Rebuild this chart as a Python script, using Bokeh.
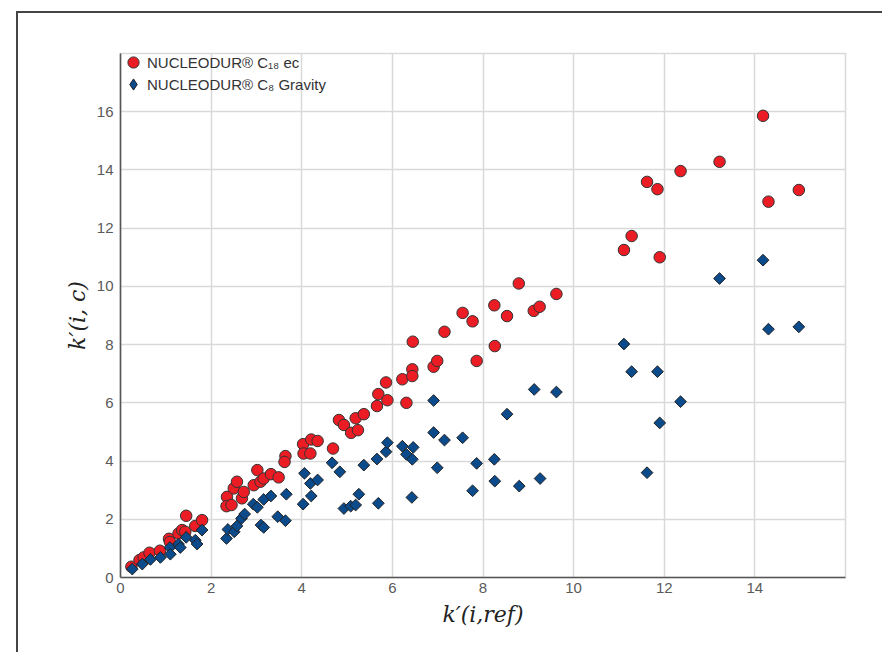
from bokeh.plotting import figure
from bokeh.models import Range1d, FixedTicker, Legend, LegendItem
from bokeh.embed import file_html
from bokeh.resources import INLINE
import math

# ---- data ----
red_x = [0.24, 0.42, 0.51, 0.64, 0.87, 1.07, 1.09, 1.28, 1.36, 1.45, 1.43, 1.65, 1.80,
         2.35, 2.34, 2.45, 2.50, 2.57, 2.68, 2.72, 2.94, 3.02, 3.09, 3.16, 3.32, 3.49,
         3.64, 3.62, 4.03, 4.04, 4.19, 4.21, 4.35, 4.69, 4.82, 4.93, 5.09, 5.24, 5.19,
         5.37, 5.66, 5.69, 5.89, 5.86, 6.22, 6.31, 6.44, 6.44, 6.45, 6.91, 6.99, 7.15,
         7.55, 7.77, 7.86, 8.25, 8.26, 8.53, 8.79, 9.12, 9.25, 9.62, 11.11, 11.28,
         11.62, 11.85, 11.90, 12.36, 13.22, 14.18, 14.30, 14.97]
red_y = [0.37, 0.60, 0.69, 0.85, 0.92, 1.33, 1.22, 1.51, 1.63, 2.12, 1.57, 1.77, 1.97,
         2.77, 2.45, 2.49, 3.06, 3.29, 2.72, 2.94, 3.17, 3.69, 3.29, 3.40, 3.55, 3.44,
         4.17, 3.97, 4.58, 4.26, 4.26, 4.74, 4.69, 4.43, 5.41, 5.24, 4.97, 5.06, 5.47,
         5.61, 5.89, 6.30, 6.09, 6.70, 6.81, 6.00, 7.15, 6.92, 8.10, 7.24, 7.44, 8.44,
         9.09, 8.80, 7.44, 9.35, 7.95, 8.98, 10.10, 9.16, 9.30, 9.74, 11.25, 11.73,
         13.59, 13.34, 11.00, 13.96, 14.28, 15.86, 12.91, 13.31]

blue_x = [0.26, 0.48, 0.66, 0.88, 1.09, 1.10, 1.28, 1.32, 1.45, 1.65, 1.69, 1.80,
          2.34, 2.37, 2.51, 2.57, 2.67, 2.74, 2.93, 3.02, 3.10, 3.16, 3.16, 3.32, 3.47,
          3.64, 3.66, 4.03, 4.06, 4.19, 4.21, 4.35, 4.67, 4.84, 4.93, 5.08, 5.19, 5.26,
          5.37, 5.66, 5.69, 5.86, 5.89, 6.22, 6.31, 6.44, 6.46, 6.43, 6.91, 6.91, 6.99,
          7.15, 7.55, 7.77, 7.86, 8.25, 8.26, 8.53, 8.80, 9.13, 9.26, 9.62, 11.11,
          11.28, 11.62, 11.85, 11.90, 12.36, 13.22, 14.18, 14.30, 14.97]
blue_y = [0.29, 0.46, 0.62, 0.69, 1.03, 0.80, 1.15, 1.03, 1.38, 1.28, 1.15, 1.63,
          1.34, 1.65, 1.57, 1.77, 2.03, 2.18, 2.52, 2.41, 1.80, 1.72, 2.68, 2.80, 2.09,
          1.95, 2.86, 2.52, 3.58, 3.23, 2.80, 3.35, 3.94, 3.63, 2.37, 2.45, 2.49, 2.86,
          3.86, 4.07, 2.55, 4.32, 4.63, 4.51, 4.23, 4.06, 4.47, 2.75, 6.08, 4.98, 3.77,
          4.72, 4.80, 2.98, 3.92, 4.06, 3.31, 5.61, 3.14, 6.46, 3.40, 6.37, 8.02,
          7.07, 3.60, 7.07, 5.31, 6.04, 10.27, 10.90, 8.53, 8.61]

x_ticks = [0, 2, 4, 6, 8, 10, 12, 14, 16]
y_ticks = [0, 2, 4, 6, 8, 10, 12, 14, 16, 18]
label_red = "NUCLEODUR® C₁₈ ec"
label_blue = "NUCLEODUR® C₈ Gravity"
x_title = "k′(i,ref)"
y_title = "k′(i, c)"

GRID = "#d9d9d9"
TICK_COLOR = "#5a5a5a"
AXIS_COLOR = "#555555"
RED = "#EC1C24"
BLUE = "#0B4A8B"

p = figure(width=866, height=641, output_backend="svg", toolbar_location=None,
           x_range=Range1d(0, 16), y_range=Range1d(0, 18),
           min_border_left=102, min_border_right=39,
           min_border_top=40, min_border_bottom=77)
p.margin = (11, 0, 0, 16)
p.styles = {"border-top": "2px solid #444444", "border-left": "2px solid #444444"}
p.background_fill_color = "white"
p.border_fill_color = "white"
p.outline_line_color = GRID
p.outline_line_width = 1.5

p.xaxis.ticker = FixedTicker(ticks=x_ticks)
p.yaxis.ticker = FixedTicker(ticks=y_ticks)
p.xaxis.major_label_overrides = {16: ""}
p.yaxis.major_label_overrides = {18: ""}

for ax in (p.xaxis[0], p.yaxis[0]):
    ax.axis_line_color = AXIS_COLOR
    ax.axis_line_width = 1.6
    ax.major_tick_line_color = None
    ax.minor_tick_line_color = None
    ax.major_tick_out = 0
    ax.major_tick_in = 0
    ax.major_label_text_font = "Liberation Sans"
    ax.major_label_text_font_size = "15px"
    ax.major_label_text_color = TICK_COLOR
    ax.axis_label_text_font = "DejaVu Serif"
    ax.axis_label_text_font_style = "italic"
    ax.axis_label_text_font_size = "22px"
    ax.axis_label_text_color = "#222222"

p.xaxis.major_label_standoff = 5
p.yaxis.major_label_standoff = 7
p.xaxis.axis_label = x_title
p.yaxis.axis_label = y_title
p.xaxis.axis_label_standoff = 6
p.yaxis.axis_label_standoff = 4

p.xgrid.grid_line_color = GRID
p.ygrid.grid_line_color = GRID
p.xgrid.grid_line_width = 1.5
p.ygrid.grid_line_width = 1.5

# legend-only glyphs: a tiny copy of each series' first point, hidden beneath the
# real marker, so that the legend can show a circle and a diamond
l_red = p.scatter(red_x[:1], red_y[:1], marker="circle", size=1, fill_color=RED,
                  line_color="#333333", line_width=1)
l_blue = p.scatter(blue_x[:1], blue_y[:1], marker="diamond", size=1, fill_color=BLUE,
                   line_color="#222222", line_width=1)

r_red = p.scatter(red_x, red_y, marker="circle", size=11.5,
                  fill_color=RED, line_color="#333333", line_width=1)
r_blue = p.scatter(blue_x, blue_y, marker="square", size=8.3, angle=math.pi / 4,
                   fill_color=BLUE, line_color="#222222", line_width=1)

common = dict(margin=0, padding=0, spacing=0,
              glyph_width=28, glyph_height=30, label_height=18, label_standoff=0,
              background_fill_alpha=0, border_line_alpha=0,
              label_text_font="Liberation Sans", label_text_font_size="15px",
              label_text_color="#333333")
leg1 = Legend(items=[LegendItem(label=label_red, renderers=[l_red])],
              location=(-1, 500), **common)
leg2 = Legend(items=[LegendItem(label=label_blue, renderers=[l_blue])],
              location=(-1, 478), **common)
p.add_layout(leg1)
p.add_layout(leg2)

open("out.html", "w").write(file_html(p, INLINE))
